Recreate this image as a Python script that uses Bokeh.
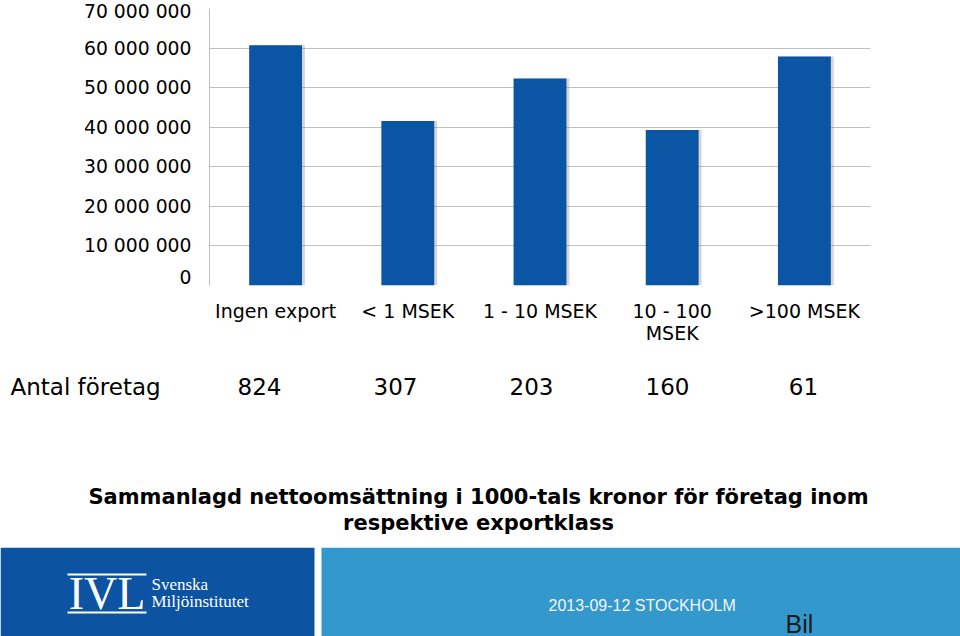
from bokeh.plotting import figure
from bokeh.models import FactorRange, Range1d, FixedTicker, ColumnDataSource
from bokeh.layouts import column
from bokeh.embed import file_html
from bokeh.resources import INLINE
from bokeh.core.properties import value
from bokeh.transform import dodge

# ---------------- data ----------------
categories = ["Ingen export", "< 1 MSEK", "1 - 10 MSEK", "10 - 100 MSEK", ">100 MSEK"]
category_labels = ["Ingen export", "< 1 MSEK", "1 - 10 MSEK", "10 - 100\nMSEK", ">100 MSEK"]
turnover = [60.7e6, 41.6e6, 52.3e6, 39.3e6, 57.9e6]
company_counts = ["824", "307", "203", "160", "61"]
row_label = "Antal företag"
y_ticks = [0, 10e6, 20e6, 30e6, 40e6, 50e6, 60e6, 70e6]
y_tick_labels = ["0", "10 000 000", "20 000 000", "30 000 000", "40 000 000",
                 "50 000 000", "60 000 000", "70 000 000"]
title_lines = ["Sammanlagd nettoomsättning i 1000-tals kronor för företag inom",
               "respektive exportklass"]
logo_mark = "IVL"
logo_lines = ["Svenska", "Miljöinstitutet"]
footer_date = "2013-09-12 STOCKHOLM"
footer_tag = "Bil"

# ---------------- layout / style ----------------
W = 960
BAR = "#0B55A5"
GRID = "#C0C0C0"
DARK = "#0C53A2"
LIGHT = "#3399CC"
LEFT, RIGHT = 209, 90


def no_align(fig):
    try:
        fig.frame_align = False
    except Exception:
        pass


# ---------- chart ----------
p = figure(width=W, height=287, x_range=FactorRange(*categories), y_range=Range1d(0, 70e6),
           output_backend="svg", toolbar_location=None,
           min_border_left=LEFT, min_border_right=RIGHT, min_border_top=8, min_border_bottom=2)
p.outline_line_color = None

src = ColumnDataSource(dict(cat=categories, val=turnover, lab=category_labels))
p.vbar(x=dodge("cat", 0.022, range=p.x_range), top="val", width=0.4, source=src,
       fill_color="#8a8a8a", fill_alpha=0.35, line_color=None)
p.vbar(x="cat", top="val", width=0.4, source=src, fill_color=BAR, line_color=None)

p.xaxis.visible = False
p.xgrid.grid_line_color = None
p.ygrid.grid_line_color = GRID
p.ygrid.grid_line_width = 1
ya = p.yaxis[0]
ya.ticker = FixedTicker(ticks=y_ticks)
ya.major_label_overrides = {t: l for t, l in zip(y_ticks, y_tick_labels)}
ya.minor_tick_line_color = None
ya.axis_line_color = GRID
ya.major_tick_line_color = None
ya.major_tick_out = 0
ya.major_tick_in = 0
ya.major_label_text_font = "DejaVu Sans"
ya.major_label_text_font_size = "18.8px"
ya.major_label_text_color = "black"
ya.major_label_standoff = 18
no_align(p)

# ---------- category labels (shared factor range) ----------
H_L = 58
lab = figure(width=W, height=H_L, x_range=p.x_range, y_range=Range1d(H_L, 0),
             output_backend="svg", toolbar_location=None,
             min_border_left=LEFT, min_border_right=RIGHT, min_border_top=0, min_border_bottom=0)
lab.axis.visible = False
lab.grid.visible = False
lab.outline_line_color = None
lab.text(x="cat", y=12, text="lab", source=src, text_font=value("DejaVu Sans"),
         text_font_size="19px", text_align="center", text_baseline="top",
         text_line_height=1.0, text_color="black")
no_align(lab)

# ---------- table row + title ----------
H2 = 202
t = figure(width=W, height=H2, x_range=Range1d(0, W), y_range=Range1d(H2, 0),
           output_backend="svg", toolbar_location=None, min_border=0)
t.axis.visible = False
t.grid.visible = False
t.outline_line_color = None

count_x = [259, 395, 531, 667, 803]
row_y = 41
t.text(x=[10], y=[row_y], text=[row_label], text_font=value("DejaVu Sans"),
       text_font_size="23px", text_align="left", text_baseline="middle", text_color="black")
t.text(x=count_x, y=[row_y] * len(company_counts), text=company_counts,
       text_font=value("DejaVu Sans"), text_font_size="23px",
       text_align="center", text_baseline="middle", text_color="black")
t.text(x=[478, 478], y=[151, 177], text=title_lines, text_font=value("DejaVu Sans"),
       text_font_style="bold", text_font_size="21px", text_align="center",
       text_baseline="middle", text_color="black")
no_align(t)

# ---------- footer ----------
H3 = 89
f = figure(width=W, height=H3, x_range=Range1d(0, W), y_range=Range1d(H3, 0),
           output_backend="svg", toolbar_location=None, min_border=0)
f.axis.visible = False
f.grid.visible = False
f.outline_line_color = None
f.quad(left=[0], right=[314], top=[0], bottom=[H3], fill_color=DARK, line_color=None)
f.quad(left=[321], right=[W], top=[0], bottom=[H3], fill_color=LIGHT, line_color=None)
f.segment(x0=[67, 67], x1=[146, 146], y0=[27, 65], y1=[27, 65], line_color="white", line_width=2)
f.text(x=[106.5], y=[46], text=[logo_mark], text_font=value("Liberation Serif"),
       text_font_size="46px", text_align="center", text_baseline="middle", text_color="white")
f.text(x=[151, 151], y=[37, 54], text=logo_lines, text_font=value("Liberation Serif"),
       text_font_size="17px", text_align="left", text_baseline="middle", text_color="white")
f.text(x=[548], y=[58], text=[footer_date], text_font=value("Liberation Sans"),
       text_font_size="16px", text_align="left", text_baseline="middle", text_color="#F2F6FA")
f.text(x=[785], y=[62], text=[footer_tag], text_font=value("Liberation Sans"),
       text_font_size="25px", text_align="left", text_baseline="top", text_color="#1A1A1A")
no_align(f)

layout = column(p, lab, t, f, spacing=0)
open("out.html", "w").write(file_html(layout, INLINE))
